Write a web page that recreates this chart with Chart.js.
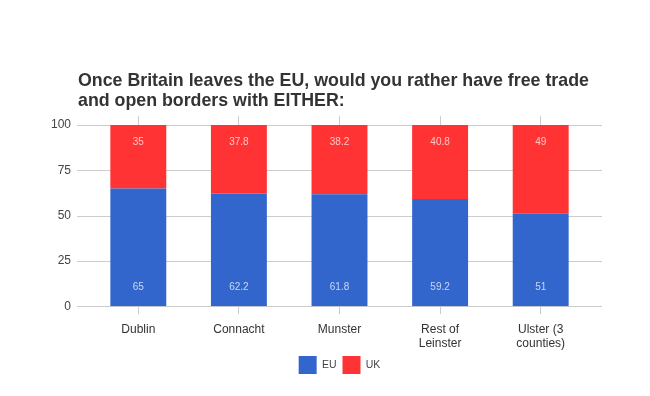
<!DOCTYPE html>
<html>
<head>
<meta charset="utf-8">
<script src="https://cdn.jsdelivr.net/npm/chart.js@4"></script>
<style>
  html, body { margin: 0; padding: 0; background: #fff; }
  #wrap { position: relative; width: 650px; height: 396px; }
  #titulo {
    position: absolute; left: 78px; top: 70px;
    font: bold 17.8px "Liberation Sans", Arial, sans-serif;
    line-height: 20px; color: #333;
  }
  canvas { position: absolute; left: 0; top: 0; }
</style>
</head>
<body>
<div id="wrap">
  <canvas id="chart" width="650" height="396"></canvas>
  <div id="titulo">Once Britain leaves the EU, would you rather have free trade<br>and open borders with EITHER:</div>
</div>
<script>
const regiones = ['Dublin', 'Connacht', 'Munster', ['Rest of', 'Leinster'], ['Ulster (3', 'counties)']];
const valoresEU = [65, 62.2, 61.8, 59.2, 51];
const valoresUK = [35, 37.8, 38.2, 40.8, 49];
const pasoY = 25;

const fuente = '"Liberation Sans", Arial, sans-serif';

// lineas horizontales un poco mas anchas que el area, como en el original
const gridExtendido = {
  id: 'gridExtendido',
  beforeDatasetsDraw(chart) {
    const { ctx, chartArea, scales } = chart;
    ctx.save();
    ctx.strokeStyle = '#cccccc';
    ctx.lineWidth = 1;
    scales.y.ticks.forEach((t) => {
      const y = Math.round(scales.y.getPixelForValue(t.value)) + 0.5;
      ctx.beginPath();
      ctx.moveTo(chartArea.left - 11, y);
      ctx.lineTo(chartArea.right + 11, y);
      ctx.stroke();
    });
    ctx.restore();
  }
};

const etiquetasBarras = {
  id: 'etiquetasBarras',
  afterDatasetsDraw(chart) {
    const { ctx } = chart;
    ctx.save();
    ctx.font = '10px ' + fuente;
    ctx.fillStyle = 'rgba(255,255,255,0.72)';
    ctx.textAlign = 'center';
    ctx.textBaseline = 'middle';
    chart.data.datasets.forEach((ds, i) => {
      chart.getDatasetMeta(i).data.forEach((bar, j) => {
        const y = i === 0 ? bar.base - 19 : bar.y + 17;
        ctx.fillText(String(ds.data[j]), bar.x, y);
      });
    });
    ctx.restore();
  }
};

new Chart(document.getElementById('chart'), {
  type: 'bar',
  data: {
    labels: regiones,
    datasets: [
      { label: 'EU', data: valoresEU, backgroundColor: '#3366cc' },
      { label: 'UK', data: valoresUK, backgroundColor: '#ff3333' }
    ]
  },
  options: {
    responsive: false,
    animation: false,
    layout: { padding: { left: 17, right: 59, top: 116, bottom: 12 } },
    datasets: { bar: { categoryPercentage: 1, barPercentage: 0.556 } },
    plugins: {
      legend: {
        position: 'bottom',
        fullSize: false,
        labels: {
          boxWidth: 18, boxHeight: 18, padding: 6,
          color: '#444', font: { family: fuente, size: 10.5 }
        }
      },
      tooltip: { enabled: false }
    },
    scales: {
      x: {
        stacked: true,
        afterFit: (scale) => { scale.height -= 9; },
        border: { display: false },
        grid: { offset: false, drawOnChartArea: false, color: '#cccccc', tickLength: 8 },
        ticks: { color: '#333', padding: 8, font: { family: fuente, size: 12 } }
      },
      xTop: {
        type: 'category',
        position: 'top',
        labels: regiones,
        border: { display: false },
        grid: { offset: false, drawOnChartArea: false, color: '#cccccc', tickLength: 9 },
        ticks: { display: false }
      },
      y: {
        stacked: true,
        min: 0,
        max: 100,
        afterFit: (scale) => { scale.width = 71; },
        border: { display: false },
        grid: { display: false, drawTicks: false },
        ticks: { stepSize: pasoY, color: '#444', padding: 17, font: { family: fuente, size: 12 } }
      }
    }
  },
  plugins: [gridExtendido, etiquetasBarras]
});
</script>
</body>
</html>
